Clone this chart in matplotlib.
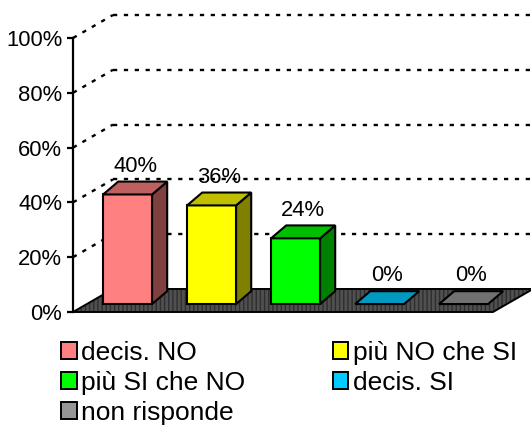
import matplotlib
matplotlib.use("Agg")
import matplotlib.pyplot as plt
from matplotlib.patches import Polygon, Patch
from matplotlib.colors import to_rgb

plt.rcParams['font.family'] = ['Liberation Sans', 'DejaVu Sans']

# dati
categorie = ['decis. NO', 'più NO che SI', 'più SI che NO', 'decis. SI', 'non risponde']
valori = [40, 36, 24, 0, 0]
etichette = ['40%', '36%', '24%', '0%', '0%']
colori = ['#FF8080', '#FFFF00', '#00FF00', '#00CCFF', '#969696']
griglia = [20, 40, 60, 80, 100]

# geometria finta 3D (in unita' dei dati)
muroDx, muroDy = 0.476, 8.4     # profondita' pareti
frontDx, frontDy = 0.15, 2.9    # spostamento barre sul pavimento
barDx, barDy = 0.18, 4.7        # profondita' barre
larg = 0.583


def scala(c, f):
    r, g, b = to_rgb(c)
    return (r * f, g * f, b * f)


fig = plt.figure(figsize=(5.31, 4.26), dpi=100)
ax = fig.add_axes([73 / 531, 114 / 426, 420 / 531, 274 / 426])
ax.set_xlim(0, len(categorie))
ax.set_ylim(0, 100)
for s in ['top', 'right', 'bottom']:
    ax.spines[s].set_visible(False)
ax.spines['left'].set_linewidth(1.6)
ax.set_xticks([])
ax.set_yticks([0] + griglia)
ax.set_yticklabels([f'{v}%' for v in [0] + griglia], fontsize=15.8)
ax.tick_params(axis='y', length=4.3, width=1.6, pad=3.5)
ax.patch.set_visible(False)

n = len(categorie)
# pavimento
pav = [(0, 0), (n, 0), (n + muroDx, muroDy), (muroDx, muroDy)]
ax.add_patch(Polygon(pav, closed=True, facecolor='#505050', edgecolor='#2e2e2e',
                     hatch='||||', lw=0, clip_on=False, zorder=1))
ax.add_patch(Polygon(pav, closed=True, fill=False, edgecolor='black', lw=1.4,
                     clip_on=False, zorder=1.5))

# griglia tratteggiata
for v in griglia:
    ax.plot([0, muroDx], [v, v + muroDy], color='black', lw=1.7,
            linestyle=(0, (1.8, 2.8)), clip_on=False, zorder=0.5)
    ax.plot([muroDx, n + muroDx], [v + muroDy, v + muroDy], color='black', lw=1.7,
            linestyle=(0, (1.8, 2.8)), clip_on=False, zorder=0.5)

# barre
for i, (v, c, lab) in enumerate(zip(valori, colori, etichette)):
    x0 = i + 0.5 - larg / 2 + frontDx
    x1 = x0 + larg
    y0 = frontDy
    y1 = frontDy + v
    top = [(x0, y1), (x1, y1), (x1 + barDx, y1 + barDy), (x0 + barDx, y1 + barDy)]
    if v > 0:
        fronte = [(x0, y0), (x1, y0), (x1, y1), (x0, y1)]
        lato = [(x1, y0), (x1 + barDx, y0 + barDy), (x1 + barDx, y1 + barDy), (x1, y1)]
        ax.add_patch(Polygon(fronte, closed=True, facecolor=c, edgecolor='black',
                             lw=1.5, zorder=3, clip_on=False))
        ax.add_patch(Polygon(lato, closed=True, facecolor=scala(c, 0.5), edgecolor='black',
                             lw=1.5, zorder=3, clip_on=False))
    ax.add_patch(Polygon(top, closed=True, facecolor=scala(c, 0.75), edgecolor='black',
                         lw=1.5, zorder=3, clip_on=False))
    ax.text(x0 + larg / 2 + barDx / 2, y1 + barDy + 5.6, lab, ha='center', va='center',
            fontsize=15.8, zorder=4)

# legenda (ordine per colonne)
ordine = [0, 2, 4, 1, 3]
maniglie = [Patch(facecolor=colori[k], edgecolor='black', lw=1.4) for k in ordine]
fig.legend(maniglie, [categorie[k] for k in ordine], ncol=2, frameon=False,
           loc='upper left', bbox_to_anchor=(61 / 531, 1 - 341 / 426),
           fontsize=19, handlelength=0.6, handleheight=0.6, handletextpad=0.17,
           columnspacing=3.3, labelspacing=0.22, borderpad=0, borderaxespad=0)

fig.savefig('out.png', dpi=100)
